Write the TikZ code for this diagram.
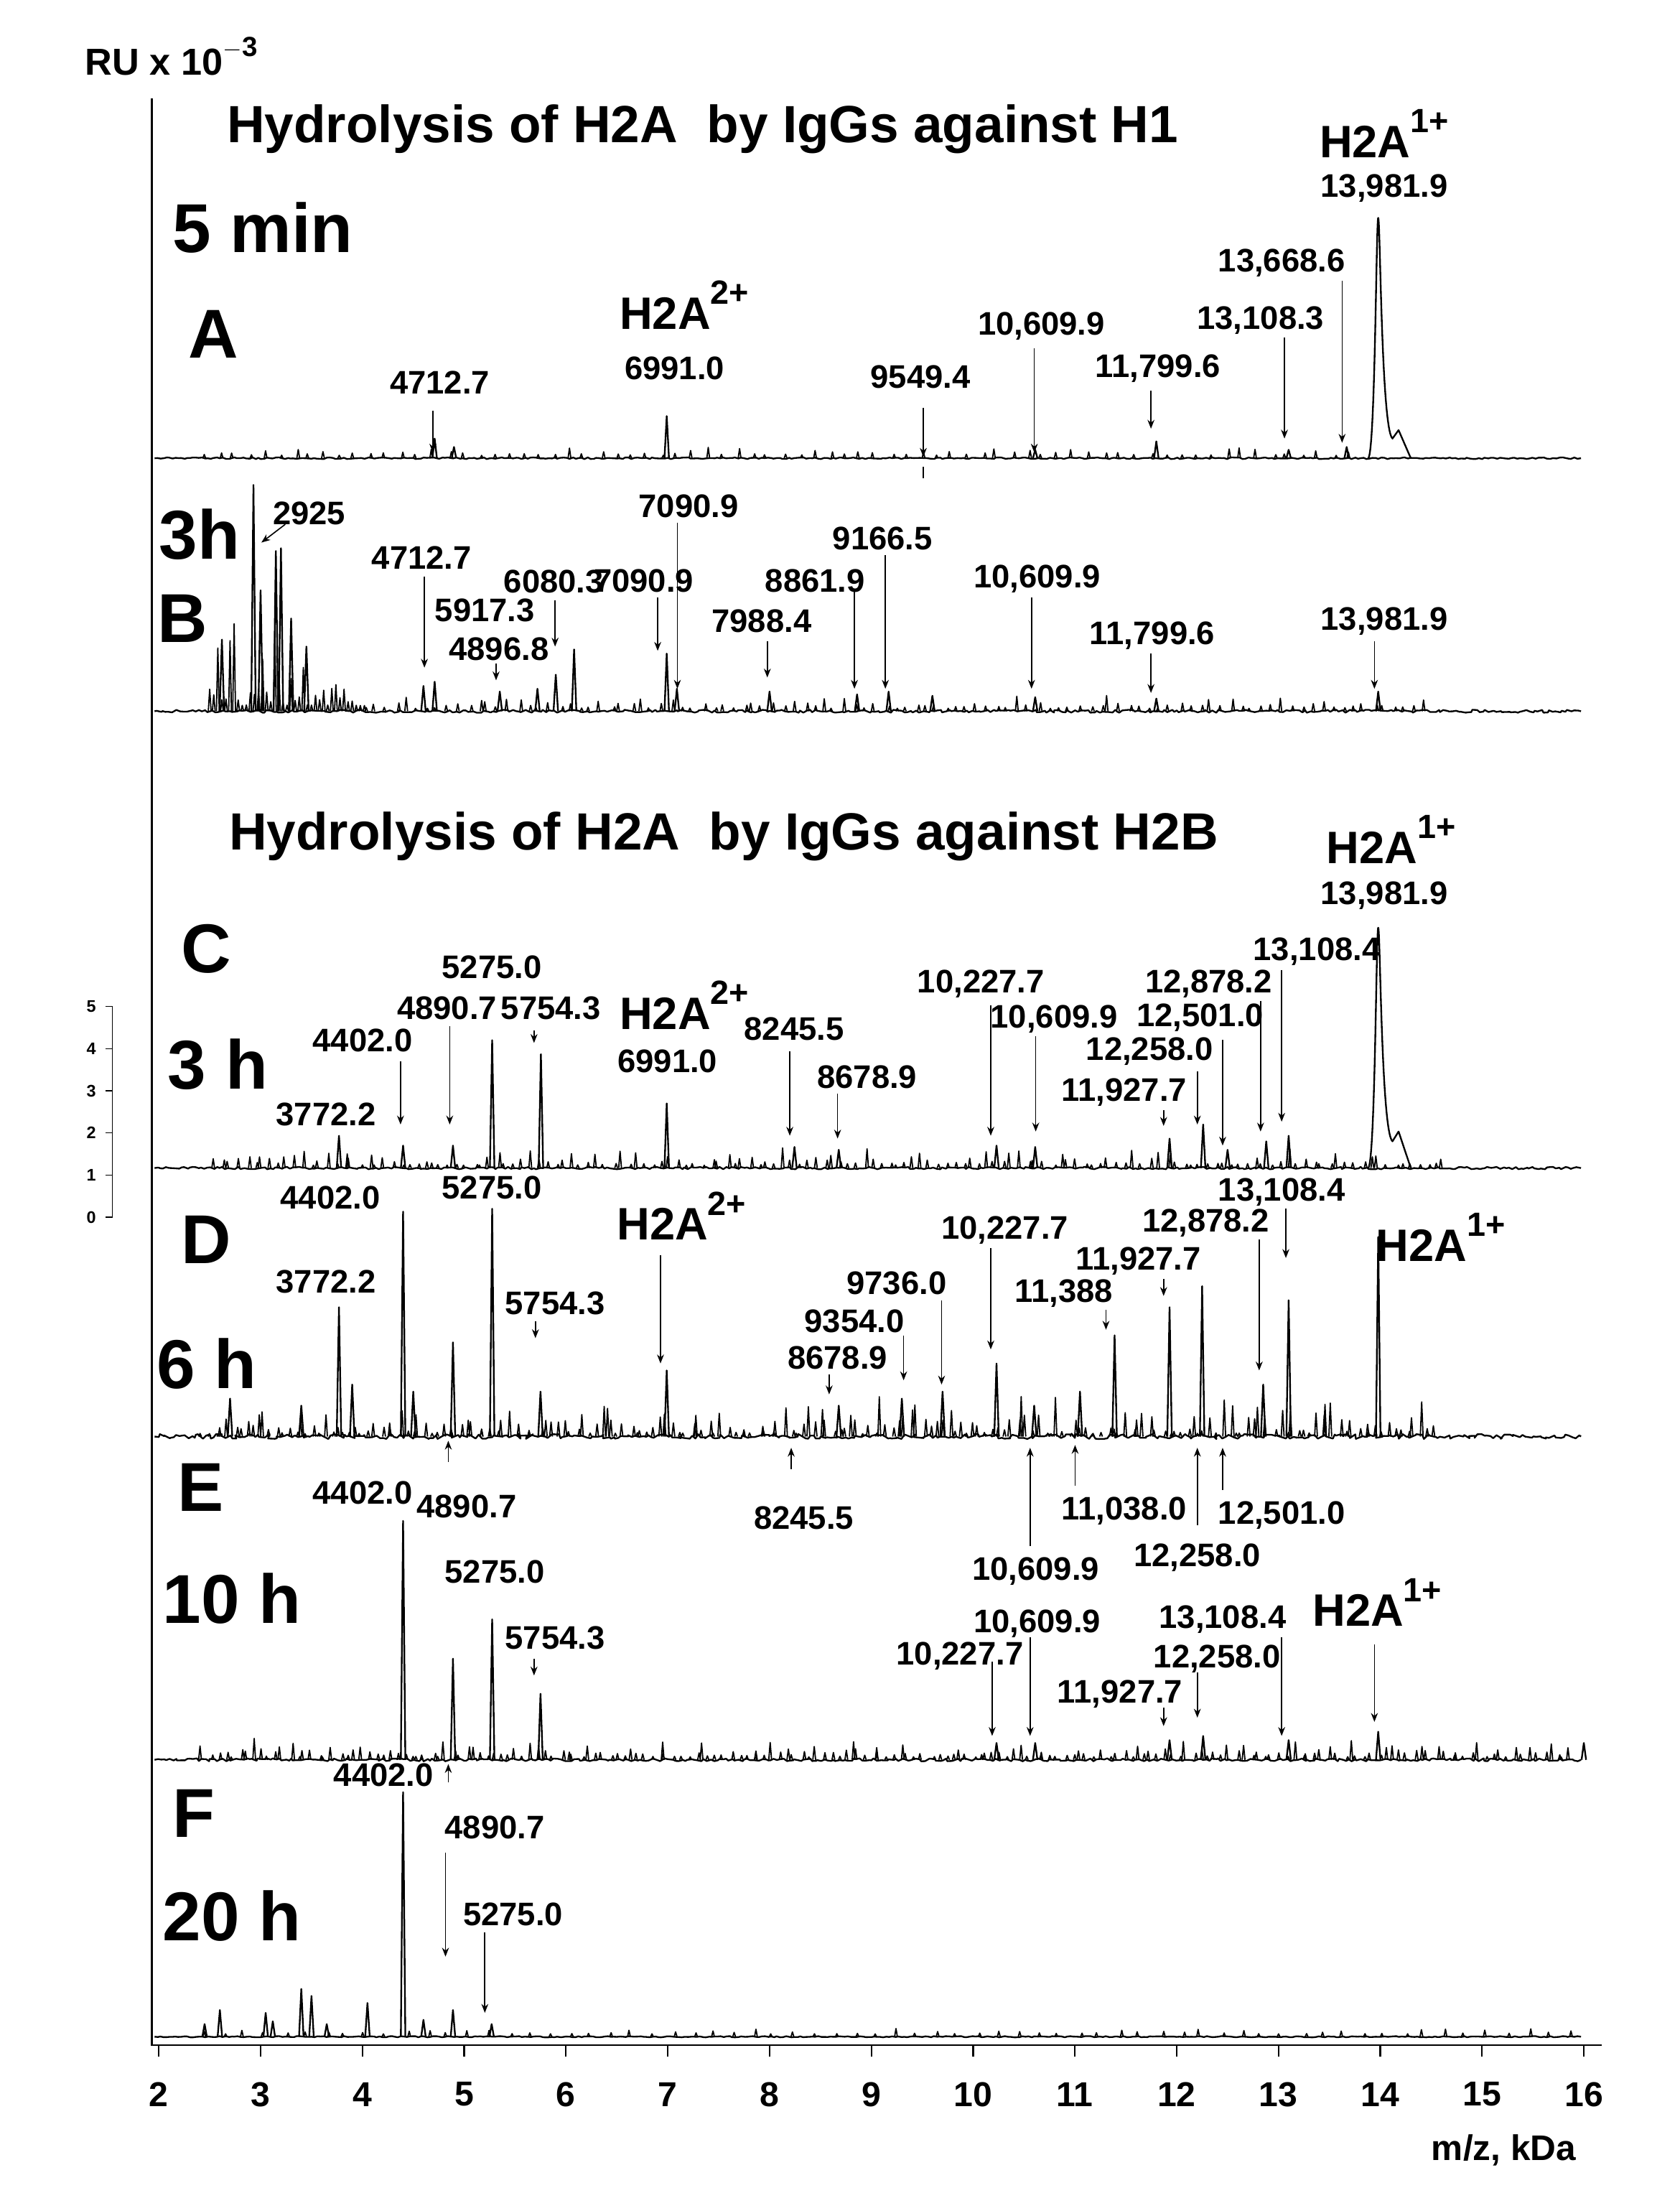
\documentclass[tikz,border=0pt]{standalone}
\usepackage{fontspec}
\setmainfont{Liberation Sans}
\usetikzlibrary{arrows.meta,decorations.pathmorphing}
\def\mx#1{(113+(#1-2)*72.43)}
\newcommand\pk[3]{\draw[spec] ({\mx{#1}-1.6},#2) -- ({\mx{#1}},#3) -- ({\mx{#1}+1.6},#2);}
\newcommand\spk[3]{\draw[spec,line width=1.3pt] ({\mx{#1}-1},#2) -- ({\mx{#1}},#3) -- ({\mx{#1}+1},#2);}
\newcommand\arr[3]{\draw[arw] (#1,#2) -- (#1,#3);}
\newcommand\noisefill[4]{\foreach \m in {#2,#3,...,#4}{\pgfmathsetmacro\mm{\m+rnd*0.08}\pgfmathsetmacro\h{#1-2-rnd*rnd*\amp}\spk{\mm}{#1}{\h}}}
\newcommand\supx[1]{\raisebox{0.55em}{\fontsize{34}{36}\selectfont #1}}
\begin{document}
\begin{tikzpicture}[x=0.05cm,y=-0.05cm,
  spec/.style={line width=1.7pt,line join=round},
  arw/.style={line width=1.2pt,-{Stealth[length=9pt,width=7pt]}},
  num/.style={font=\fontsize{33}{36}\selectfont\bfseries,inner sep=0pt},
  hh/.style={font=\fontsize{46}{50}\selectfont\bfseries,inner sep=0pt},
  big/.style={font=\fontsize{70}{74}\selectfont\bfseries,inner sep=0pt},
  ttl/.style={font=\fontsize{53}{56}\selectfont\bfseries,inner sep=0pt},
  noise/.style={spec,decorate,decoration={random steps,segment length=3pt,amplitude=#1}}]
\useasboundingbox (0,0) rectangle (1195,1573);
\pgfmathsetseed{7}
% axes
\draw[line width=1.6pt] (108,70) -- (108,1455) -- (1140,1455);
\foreach \k in {2,...,16}{
  \draw[line width=1.6pt] ({\mx{\k}},1455) -- ({\mx{\k}},1463);
  \node[num,font=\fontsize{35}{38}\selectfont\bfseries] at ({\mx{\k}},1490) {\k};}
\node[num,font=\fontsize{36}{38}\selectfont\bfseries] at (1070,1530) {m/z, kDa};
\node[num,font=\fontsize{38}{40}\selectfont\bfseries] at (122,40) {RU x 10\raisebox{0.5em}{\fontsize{28}{30}\selectfont$-$3}};
% scale bar
\draw[line width=1.2pt] (75,716) -- (80,716) -- (80,866) -- (75,866);
\foreach \i in {0,...,5}{\draw[line width=1pt] (75,{866-\i*30}) -- (80,{866-\i*30});
  \node[font=\fontsize{17}{18}\selectfont\bfseries] at (65,{866-\i*30}) {\i};}
% ===== Panel A
\node[ttl] at (500,92) {Hydrolysis of H2A\ \ by IgGs against H1};
\node[hh] at (985,95) {H2A\supx{1+}};
\node[num] at (985,134) {13,981.9};
\node[big] at (187,162) {5 min};
\node[big] at (152,238) {A};
\node[hh] at (487,217) {H2A\supx{2+}};
\node[num] at (480,262) {6991.0};
\draw[noise=0.8pt] (110,326) -- (1125,326);
\def\amp{6}\noisefill{326}{2.4}{2.55}{13.8}
\pk{4.71}{326}{312}\pk{4.9}{326}{318}\pk{6.99}{326}{296}\pk{10.61}{326}{320}
\pk{11.8}{326}{314}\pk{13.1}{326}{320}\pk{13.67}{326}{318}
\draw[spec] ({\mx{13.88}},326) .. controls ({\mx{13.95}},326) and ({\mx{13.96}},155) .. ({\mx{13.98}},155) .. controls ({\mx{14.0}},155) and ({\mx{14.01}},305) .. ({\mx{14.12}},312) -- ({\mx{14.18}},306) -- ({\mx{14.3}},326);
\node[num] at (313,272) {4712.7}; \arr{308}{292}{322}
\node[num] at (655,268) {9549.4}; \arr{657}{290}{325} \draw[line width=1.6pt] (657,332) -- (657,340);
\node[num] at (741,232) {10,609.9}; \arr{736}{248}{322}
\node[num] at (824,262) {11,799.6}; \arr{819}{278}{305}
\node[num] at (897,228) {13,108.3}; \arr{914}{240}{312}
\node[num] at (912,187) {13,668.6}; \arr{955}{200}{315}
% ===== Panel B
\node[big] at (142,380) {3h};
\node[big] at (130,440) {B};
\draw[noise=1.5pt] (110,506) -- (1125,506);
\foreach \m in {2.5,2.54,...,4.05}{\pgfmathsetmacro\h{506-4-rnd*rnd*55*(4.2-\m)}\spk{\m}{506}{\h}}
\def\amp{10}\noisefill{506}{4.0}{4.1}{14.5}
\pk{2.62}{506}{455}\pk{2.93}{506}{345}\pk{3.0}{506}{420}\pk{3.15}{506}{392}\pk{3.2}{506}{390}\pk{3.3}{506}{440}\pk{3.45}{506}{460}
\pk{4.6}{506}{488}\pk{4.71}{506}{485}\pk{5.35}{506}{492}\pk{5.72}{506}{490}\pk{5.9}{506}{480}\pk{6.08}{506}{462}\pk{6.99}{506}{465}\pk{7.09}{506}{490}\pk{8.0}{506}{492}\pk{8.86}{506}{494}\pk{9.17}{506}{492}\pk{9.6}{506}{495}\pk{10.61}{506}{496}\pk{11.8}{506}{497}\pk{13.98}{506}{492}
\node[num] at (220,365) {2925}; \draw[arw] (203,373) -- (186,386);
\node[num] at (300,397) {4712.7}; \arr{302}{410}{475}
\node[num] at (345,434) {5917.3};
\node[num] at (355,462) {4896.8}; \arr{353}{472}{484}
\node[num] at (394,414) {6080.3}; \arr{395}{427}{460}
\node[num] at (458,413) {7090.9}; \arr{468}{425}{463}
\node[num] at (490,360) {7090.9}; \arr{482}{372}{490}
\node[num] at (542,442) {7988.4}; \arr{546}{456}{482}
\node[num] at (580,413) {8861.9}; \arr{608}{420}{490}
\node[num] at (628,383) {9166.5}; \arr{630}{395}{490}
\node[num] at (738,412) {10,609.9}; \arr{734}{425}{490}
\node[num] at (820,452) {11,799.6}; \arr{819}{465}{493}
\node[num] at (985,442) {13,981.9}; \arr{978}{456}{490}
% ===== Panel C
\node[ttl] at (515,595) {Hydrolysis of H2A\ \ by IgGs against H2B};
\node[hh] at (990,597) {H2A\supx{1+}};
\node[num] at (985,637) {13,981.9};
\node[big] at (147,675) {C};
\node[big] at (155,757) {3 h};
\draw[noise=1.2pt] (110,831) -- (1125,831);
\def\amp{14}\noisefill{831}{2.5}{2.58}{14.6}
\pk{3.77}{831}{808}\pk{4.4}{831}{815}\pk{4.89}{831}{815}\pk{5.275}{831}{740}\pk{5.754}{831}{750}\pk{6.99}{831}{785}
\pk{8.245}{831}{816}\pk{8.68}{831}{818}\pk{10.23}{831}{815}\pk{10.61}{831}{816}\pk{11.93}{831}{810}\pk{12.26}{831}{800}\pk{12.5}{831}{818}\pk{12.88}{831}{812}\pk{13.1}{831}{808}
\draw[spec] ({\mx{13.88}},831) .. controls ({\mx{13.95}},831) and ({\mx{13.96}},660) .. ({\mx{13.98}},660) .. controls ({\mx{14.0}},660) and ({\mx{14.01}},805) .. ({\mx{14.12}},812) -- ({\mx{14.18}},805) -- ({\mx{14.3}},831);
\node[num] at (350,688) {5275.0};
\node[num] at (318,717) {4890.7}; \arr{320}{730}{800}
\node[num] at (392,717) {5754.3}; \arr{380}{733}{742}
\node[hh] at (487,715) {H2A\supx{2+}};
\node[num] at (475,755) {6991.0};
\node[num] at (258,740) {4402.0}; \arr{285}{755}{800}
\node[num] at (232,793) {3772.2};
\node[num] at (565,732) {8245.5}; \arr{562}{748}{808}
\node[num] at (617,766) {8678.9}; \arr{596}{778}{810}
\node[num] at (698,700) {10,227.7}; \arr{705}{715}{808}
\node[num] at (750,725) {10,609.9}; \arr{737}{737}{805}
\node[num] at (860,700) {12,878.2}; \arr{897}{712}{805}
\node[num] at (937,677) {13,108.4}; \arr{912}{690}{798}
\node[num] at (854,724) {12,501.0}; \arr{870}{740}{815}
\node[num] at (818,748) {12,258.0}; \arr{852}{762}{800}
\node[num] at (800,777) {11,927.7}; \arr{828}{790}{801}
% ===== Panel D
\node[big] at (147,882) {D};
\node[big] at (147,970) {6 h};
\draw[noise=2.5pt] (110,1022) -- (1125,1022);
\def\amp{30}\noisefill{1022}{2.4}{2.46}{14.5}
\pk{2.7}{1022}{995}\pk{3.4}{1022}{1000}\pk{3.77}{1022}{930}\pk{3.9}{1022}{985}\pk{4.4}{1022}{862}\pk{4.5}{1022}{990}\pk{4.89}{1022}{955}\pk{5.275}{1022}{860}\pk{5.75}{1022}{990}\pk{6.99}{1022}{975}
\pk{8.68}{1022}{1000}\pk{9.3}{1022}{995}\pk{9.7}{1022}{990}\pk{10.23}{1022}{970}\pk{10.6}{1022}{1000}\pk{11.05}{1022}{990}\pk{11.39}{1022}{950}\pk{11.93}{1022}{930}\pk{12.25}{1022}{915}\pk{12.85}{1022}{985}\pk{13.1}{1022}{925}\pk{13.98}{1022}{880}
\node[num] at (235,852) {4402.0};
\node[num] at (350,845) {5275.0};
\node[num] at (232,912) {3772.2};
\node[num] at (395,927) {5754.3}; \arr{381}{940}{952}
\node[hh] at (485,865) {H2A\supx{2+}}; \arr{470}{893}{970}
\node[num] at (715,875) {10,227.7}; \arr{705}{888}{960}
\node[num] at (638,913) {9736.0}; \arr{670}{925}{985}
\node[num] at (608,940) {9354.0}; \arr{643}{950}{982}
\node[num] at (596,966) {8678.9}; \arr{590}{978}{992}
\node[num] at (757,920) {11,388}; \arr{787}{932}{946}
\node[num] at (810,897) {11,927.7}; \arr{828}{910}{922}
\node[num] at (858,870) {12,878.2}; \arr{896}{882}{975}
\node[num] at (912,848) {13,108.4}; \arr{915}{860}{895}
\node[hh] at (1025,880) {H2A\supx{1+}};
\arr{319}{1040}{1025}
\node[num] at (332,1072) {4890.7};
\node[num] at (572,1080) {8245.5}; \arr{563}{1045}{1030}
\node[num] at (737,1118) {10,609.9}; \arr{733}{1100}{1030}
\node[num] at (800,1075) {11,038.0}; \arr{765}{1057}{1028}
\node[num] at (852,1108) {12,258.0}; \arr{852}{1085}{1030}
\node[num] at (912,1078) {12,501.0}; \arr{870}{1060}{1030}
% ===== Panel E
\node[big] at (143,1058) {E};
\node[big] at (165,1137) {10 h};
\node[num] at (258,1062) {4402.0};
\draw[noise=1.5pt] (110,1252) -- (1125,1252);
\def\amp{14}\noisefill{1252}{2.4}{2.47}{15.9}
\pk{4.4}{1252}{1082}\pk{4.89}{1252}{1180}\pk{5.275}{1252}{1152}\pk{5.75}{1252}{1205}\pk{10.23}{1252}{1240}\pk{10.61}{1252}{1240}\pk{11.93}{1252}{1238}\pk{12.26}{1252}{1235}\pk{13.1}{1252}{1238}\pk{13.98}{1252}{1232}\pk{16.0}{1252}{1240}
\node[num] at (352,1118) {5275.0};
\node[num] at (395,1165) {5754.3}; \arr{380}{1180}{1192}
\node[num] at (738,1155) {10,609.9}; \arr{733}{1165}{1235}
\node[num] at (683,1178) {10,227.7}; \arr{706}{1182}{1235}
\node[num] at (870,1152) {13,108.4}; \arr{912}{1165}{1235}
\node[num] at (866,1180) {12,258.0}; \arr{852}{1190}{1222}
\node[num] at (797,1205) {11,927.7}; \arr{828}{1215}{1228}
\node[hh] at (980,1140) {H2A\supx{1+}}; \arr{978}{1170}{1225}
% ===== Panel F
\node[big] at (138,1290) {F};
\node[big] at (165,1363) {20 h};
\draw[noise=0.6pt] (110,1449) -- (1125,1449);
\def\amp{5}\noisefill{1449}{2.4}{2.6}{15.9}
\pk{2.6}{1449}{1430}\pk{3.05}{1449}{1432}\pk{3.12}{1449}{1438}\pk{3.4}{1449}{1415}\pk{3.5}{1449}{1420}\pk{4.05}{1449}{1425}\pk{4.4}{1449}{1275}\pk{4.6}{1449}{1437}\pk{4.89}{1449}{1430}\pk{5.27}{1449}{1440}\pk{2.45}{1449}{1440}\pk{3.65}{1449}{1440}
\node[num] at (273,1263) {4402.0};
\arr{319}{1268}{1255}
\node[num] at (352,1300) {4890.7}; \arr{317}{1318}{1392}
\node[num] at (365,1362) {5275.0}; \arr{345}{1375}{1432}
\end{tikzpicture}
\end{document}
